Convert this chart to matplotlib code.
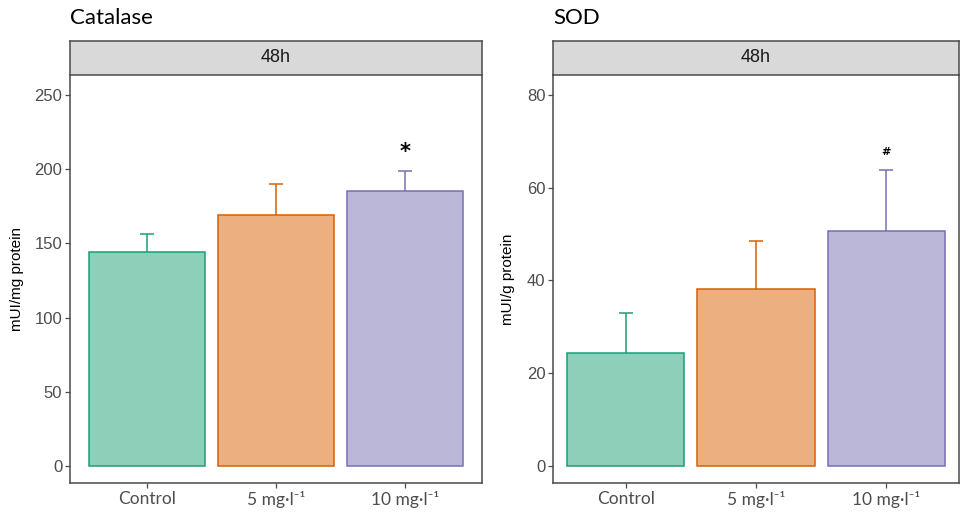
import matplotlib
matplotlib.use('Agg')
import matplotlib.pyplot as plt
import numpy as np

# data
groups = ['Control', '5 mg·l⁻¹', '10 mg·l⁻¹']
cat_mean = [144, 169, 185]
cat_sd = [12, 21, 13.5]
cat_marks = ['', '', '*']
sod_mean = [24.3, 38.2, 50.7]
sod_sd = [8.7, 10.3, 13.1]
sod_marks = ['', '', '#']

fills = ['#8ECFBA', '#ECAF80', '#BAB7D9']
edges = ['#1B9E77', '#D95F02', '#7570B3']

W, H = 960, 513
fig = plt.figure(figsize=(W / 100, H / 100), dpi=100)

TICK_C = '#4D4D4D'
LINE_C = '#4A4A4A'


def panel(x0, x1, title, ylabel, means, sds, marks, ylim, yticks, xlim,
          mark_off, mark_size, ylab_x):
    top, strip_top, bottom = 75, 41, 483
    ax = fig.add_axes([x0 / W, 1 - bottom / H, (x1 - x0) / W, (bottom - top) / H])
    st = fig.add_axes([x0 / W, 1 - top / H, (x1 - x0) / W, (top - strip_top) / H])

    x = np.arange(1, len(groups) + 1)
    ax.bar(x, means, width=0.9, color=fills, edgecolor=edges, linewidth=1.1, zorder=2)
    tops = np.array(means) + np.array(sds)
    for xi, m, t, c in zip(x, means, tops, edges):
        ax.vlines(xi, m, t, color=c, lw=1.1, zorder=1)
        ax.hlines(t, xi - 0.055, xi + 0.055, color=c, lw=1.1, zorder=1)
    for xi, t, s in zip(x, tops, marks):
        if s:
            ax.text(xi, t + mark_off, s, ha='center', va='center',
                    fontsize=mark_size, fontweight='bold', color='black')

    ax.set_xlim(*xlim)
    ax.set_ylim(*ylim)
    ax.set_yticks(yticks)
    ax.set_xticks(x)
    ax.set_xticklabels(groups)
    ax.tick_params(axis='x', labelfontfamily='Lato', labelsize=12.5)
    ax.tick_params(axis='y', labelfontfamily='Liberation Sans', labelsize=12)
    ax.tick_params(axis='both', length=3.5, width=0.9, color=TICK_C,
                   labelcolor=TICK_C, pad=2)
    for sp in ax.spines.values():
        sp.set_color(LINE_C)
        sp.set_linewidth(1.1)
    ax.spines['top'].set_visible(False)

    st.set_facecolor('#D9D9D9')
    st.set_xticks([])
    st.set_yticks([])
    for sp in st.spines.values():
        sp.set_color(LINE_C)
        sp.set_linewidth(1.1)
    st.text(0.5, 0.5, '48h', ha='center', va='center', fontsize=13,
            fontfamily='Liberation Sans', color='#1A1A1A', transform=st.transAxes)

    fig.text(x0 / W, 1 - 18 / H, title, ha='left', va='center', fontsize=16,
             fontfamily='Lato', color='black')
    fig.text(ylab_x / W, 1 - 279 / H, ylabel, ha='center', va='center',
             rotation=90, fontsize=11, fontfamily='Liberation Sans', color='black')


panel(70, 482, 'Catalase', 'mUI/mg protein', cat_mean, cat_sd, cat_marks,
      (-11.5, 263.5), [0, 50, 100, 150, 200, 250], (0.4, 3.6), 13, 15, 17)
panel(553, 959, 'SOD', 'mUI/g protein', sod_mean, sod_sd, sod_marks,
      (-3.67, 84.3), [0, 20, 40, 60, 80], (0.44, 3.56), 3.8, 8, 508)

fig.savefig('out.png', dpi=100)
